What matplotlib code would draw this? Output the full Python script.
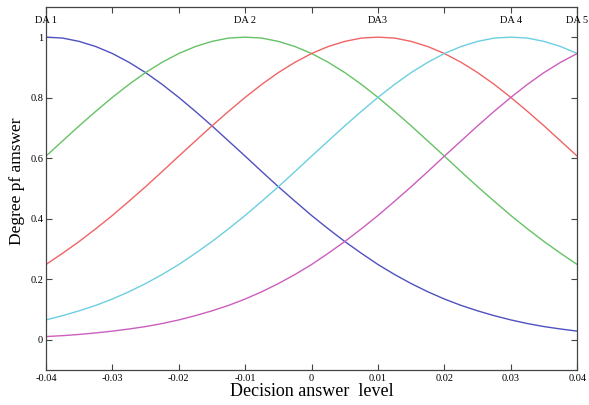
import numpy as np
import matplotlib.pyplot as plt

# sample positions along the decision answer level axis
level = np.linspace(-0.04, 0.04, 33)

# degree of answer (step 0.0025)
da1 = [1.000, 0.997, 0.986, 0.969, 0.946, 0.917, 0.883, 0.844, 0.801, 0.755, 0.707,
       0.657, 0.607, 0.556, 0.506, 0.458, 0.411, 0.367, 0.325, 0.286, 0.249, 0.216,
       0.186, 0.159, 0.135, 0.114, 0.096, 0.080, 0.066, 0.054, 0.044, 0.036, 0.029]
da2 = [0.607, 0.657, 0.707, 0.755, 0.801, 0.844, 0.883, 0.917, 0.946, 0.969, 0.986,
       0.997, 1.000, 0.997, 0.986, 0.969, 0.946, 0.917, 0.883, 0.844, 0.801, 0.755,
       0.707, 0.657, 0.607, 0.556, 0.506, 0.458, 0.411, 0.367, 0.325, 0.286, 0.249]
da3 = [0.249, 0.286, 0.325, 0.367, 0.411, 0.458, 0.506, 0.556, 0.607, 0.657, 0.707,
       0.755, 0.801, 0.844, 0.883, 0.917, 0.946, 0.969, 0.986, 0.997, 1.000, 0.997,
       0.986, 0.969, 0.946, 0.917, 0.883, 0.844, 0.801, 0.755, 0.707, 0.657, 0.607]
da4 = [0.066, 0.080, 0.096, 0.114, 0.135, 0.159, 0.186, 0.216, 0.249, 0.286, 0.325,
       0.367, 0.411, 0.458, 0.506, 0.556, 0.607, 0.657, 0.707, 0.755, 0.801, 0.844,
       0.883, 0.917, 0.946, 0.969, 0.986, 0.997, 1.000, 0.997, 0.986, 0.969, 0.946]
da5 = [0.011, 0.014, 0.018, 0.023, 0.029, 0.036, 0.044, 0.054, 0.066, 0.080, 0.096,
       0.114, 0.135, 0.159, 0.186, 0.216, 0.249, 0.286, 0.325, 0.367, 0.411, 0.458,
       0.506, 0.556, 0.607, 0.657, 0.707, 0.755, 0.801, 0.844, 0.883, 0.917, 0.946]

da_names = ['DA 1', 'DA 2', 'DA3', 'DA 4', 'DA 5']
da_pos = [-0.04, -0.01, 0.01, 0.03, 0.04]

xticks = [-0.04, -0.03, -0.02, -0.01, 0, 0.01, 0.02, 0.03, 0.04]
xlabels = ['-0.04', '-0.03', '-0.02', '-0.01', '0', '0.01', '0.02', '0.03', '0.04']
yticks = [0, 0.2, 0.4, 0.6, 0.8, 1]
ylabels = ['0', '0.2', '0.4', '0.6', '0.8', '1']

plt.rcParams['font.family'] = ['Liberation Serif', 'DejaVu Serif']

fig = plt.figure(figsize=(5.89, 4.05), dpi=100)
ax = fig.add_axes([0.078, 0.086, 0.902, 0.897])

colors = ['#5050c0', '#66c266', '#f06464', '#6ccfe0', '#cc5ebe']
for ys, c in zip([da1, da2, da3, da4, da5], colors):
    ax.plot(level, ys, color=c, lw=1)

for name, x in zip(da_names, da_pos):
    ax.text(x, 1.056, name, ha='center', va='center', fontsize=7.5)

ax.set_xlim(-0.04, 0.04)
ax.set_ylim(-0.1, 1.1)
ax.set_xticks(xticks)
ax.set_xticklabels(xlabels)
ax.set_yticks(yticks)
ax.set_yticklabels(ylabels)
ax.tick_params(direction='in', length=4, width=0.8, labelsize=7.5, top=True, right=True,
               color='#444444', pad=3)
ax.tick_params(axis='y', pad=2)
for s in ax.spines.values():
    s.set_color('#444444')
    s.set_linewidth(0.9)

ax.set_xlabel('Decision answer  level', fontsize=13, labelpad=0)
ax.set_ylabel('Degree pf amswer', fontsize=12.5)
ax.yaxis.set_label_coords(-0.04, 0.52)

fig.savefig('out.png', dpi=100)
